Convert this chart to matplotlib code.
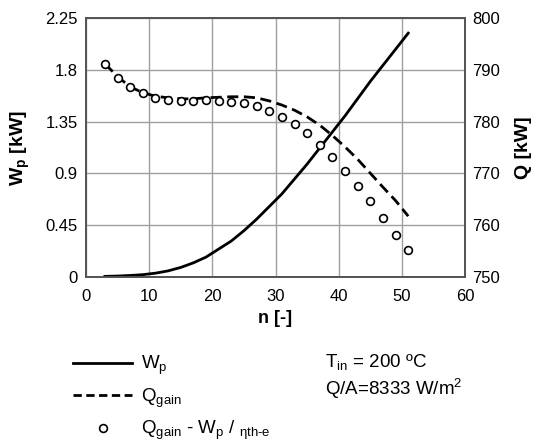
import matplotlib
matplotlib.use("Agg")
import matplotlib.pyplot as plt
from matplotlib.lines import Line2D

# Dados
n = [3, 5, 7, 9, 11, 13, 15, 17, 19, 21, 23, 25, 27,
     29, 31, 33, 35, 37, 39, 41, 43, 45, 47, 49, 51]

# potência de bombagem W_p [kW] (eixo esquerdo)
w_p = [0.002, 0.005, 0.01, 0.017, 0.03, 0.05, 0.08, 0.12, 0.17, 0.24, 0.31, 0.40, 0.50,
       0.61, 0.72, 0.85, 0.98, 1.12, 1.26, 1.40, 1.55, 1.70, 1.84, 1.98, 2.12]

# Q_gain [kW] (eixo direito)
q_gain = [791.2, 788.7, 786.7, 785.6, 784.9, 784.6, 784.4, 784.4, 784.6, 784.7, 784.8, 784.8, 784.6,
          784.0, 783.2, 782.2, 780.9, 779.3, 777.3, 775.1, 772.7, 770.0, 767.3, 764.7, 761.7]

# Q_gain - W_p / eta [kW] (eixo direito)
q_net = [791.2, 788.5, 786.6, 785.5, 784.6, 784.2, 784.0, 784.0, 784.1, 784.0, 783.8, 783.6, 783.0,
         782.1, 780.9, 779.5, 777.8, 775.5, 773.2, 770.5, 767.6, 764.6, 761.4, 758.1, 755.1]

x_ticks = [0, 10, 20, 30, 40, 50, 60]
y_left_ticks = [0, 0.45, 0.9, 1.35, 1.8, 2.25]
y_left_labels = ["0", "0.45", "0.9", "1.35", "1.8", "2.25"]
y_right_ticks = [750, 760, 770, 780, 790, 800]

plt.rcParams["font.family"] = ["Liberation Sans", "DejaVu Sans"]
plt.rcParams["mathtext.fontset"] = "custom"
plt.rcParams["mathtext.rm"] = "Liberation Sans"
plt.rcParams["mathtext.it"] = "Liberation Sans:italic"
plt.rcParams["mathtext.bf"] = "Liberation Sans:bold"

fig = plt.figure(figsize=(5.34, 4.44), dpi=100)
fig.subplots_adjust(left=0.161, right=0.871, top=0.959, bottom=0.377)
ax = fig.add_subplot(111)
ax2 = ax.twinx()

# eixo esquerdo: W_p
ax.plot(n, w_p, color="black", linewidth=2.0, zorder=3)
ax.set_xlim(0, 60)
ax.set_ylim(0, 2.25)
ax.set_xticks(x_ticks)
ax.set_yticks(y_left_ticks)
ax.set_yticklabels(y_left_labels)
ax.grid(True, color="#a0a0a0", linewidth=1.0)
ax.set_axisbelow(True)
ax.tick_params(length=0, labelsize=12, pad=6)
ax.tick_params(axis="x", pad=9)

# eixo direito: Q
ax2.plot(n, q_gain, color="black", linewidth=2.0, linestyle=(0, (4, 2)))
ax2.plot(n, q_net, linestyle="none", marker="o", markersize=5.6,
         markerfacecolor="white", markeredgecolor="black", markeredgewidth=1.2)
ax2.set_ylim(750, 800)
ax2.set_yticks(y_right_ticks)
ax2.tick_params(length=0, labelsize=12, pad=5)

for a in (ax, ax2):
    for s in a.spines.values():
        s.set_color("#555555")
        s.set_linewidth(1.3)

# rótulos dos eixos
fig.text(275 / 534, 1 - 318 / 444, "n [-]", ha="center", va="center",
         fontsize=13, fontweight="bold")
fig.text(20 / 534, 1 - 148 / 444, r"$\mathbf{W_p}$ [kW]", rotation=90,
         ha="center", va="center", fontsize=14, fontweight="bold")
fig.text(523 / 534, 1 - 148 / 444, "Q [kW]", rotation=90,
         ha="center", va="center", fontsize=14, fontweight="bold")

# legenda
handles = [
    Line2D([], [], color="black", linewidth=2.0),
    Line2D([], [], color="black", linewidth=2.0, linestyle=(0, (3, 1.6))),
    Line2D([], [], linestyle="none", marker="o", markersize=5.6,
           markerfacecolor="white", markeredgecolor="black", markeredgewidth=1.2),
]
labels = [r"W$_\mathrm{p}$", r"Q$_\mathrm{gain}$",
          r"Q$_\mathrm{gain}$ - W$_\mathrm{p}$ / $_{\mathrm{ηth\text{-}e}}$"]
fig.legend(handles, labels, loc="upper left", bbox_to_anchor=(73 / 534, 1 - 354 / 444),
           frameon=False, fontsize=13.5, handlelength=3.15, handletextpad=0.5,
           borderpad=0, borderaxespad=0, labelspacing=0.5)

fig.text(325 / 534, 1 - 367 / 444, r"T$_\mathrm{in}$ = 200 ºC", fontsize=13.5,
         ha="left", va="baseline")
fig.text(325 / 534, 1 - 395 / 444, r"Q/A=8333 W/m$^2$", fontsize=13.5,
         ha="left", va="baseline")

fig.savefig("out.png", dpi=100)
